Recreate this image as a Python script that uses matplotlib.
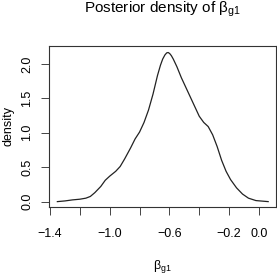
# Posterior density plot, R base-graphics look
import matplotlib
matplotlib.use("Agg")
import matplotlib.pyplot as plt

# density curve
beta = [-1.351, -1.30, -1.25, -1.20, -1.16, -1.13, -1.10, -1.06, -1.03,
        -1.00, -0.96, -0.93, -0.90, -0.86, -0.83, -0.80, -0.77, -0.74,
        -0.71, -0.68, -0.66, -0.645, -0.63, -0.618, -0.608, -0.598, -0.587,
        -0.574, -0.55, -0.52, -0.49, -0.46, -0.43, -0.40, -0.37, -0.34,
        -0.31, -0.28, -0.25, -0.22, -0.19, -0.15, -0.11, -0.07, -0.02, 0.062]
dens = [0.0, 0.01, 0.025, 0.035, 0.05, 0.075, 0.13, 0.22, 0.31,
        0.37, 0.44, 0.51, 0.62, 0.78, 0.91, 1.01, 1.15, 1.33,
        1.56, 1.83, 1.98, 2.07, 2.13, 2.16, 2.165, 2.15, 2.12,
        2.07, 1.96, 1.80, 1.66, 1.52, 1.38, 1.24, 1.15, 1.09,
        0.97, 0.80, 0.60, 0.44, 0.32, 0.20, 0.11, 0.05, 0.015, 0.0]

xticks = [-1.4, -1.2, -1.0, -0.8, -0.6, -0.4, -0.2, 0.0]
xlabels = ["\u22121.4", "", "\u22121.0", "", "\u22120.6", "", "\u22120.2", "0.0"]
yticks = [0.0, 0.5, 1.0, 1.5, 2.0]
ylabels = ["0.0", "0.5", "1.0", "1.5", "2.0"]

plt.rcParams["font.family"] = ["Liberation Sans", "DejaVu Sans"]
plt.rcParams["mathtext.fontset"] = "custom"
plt.rcParams["mathtext.rm"] = "Liberation Sans"
plt.rcParams["mathtext.it"] = "Liberation Sans"

fig = plt.figure(figsize=(2.77, 2.77), dpi=100)
ax = fig.add_axes([0.178, 0.254, 0.817, 0.580])

ax.plot(beta, dens, color="#222222", lw=0.9)
ax.set_xlim(-1.405, 0.112)
ax.set_ylim(-0.073, 2.26)

ax.set_xticks(xticks)
ax.set_xticklabels(xlabels, fontsize=9)
ax.set_yticks(yticks)
ax.set_yticklabels(ylabels, fontsize=9, rotation=90, va="center")
ax.tick_params(direction="out", length=5.5, width=0.7, color="#444444")
ax.tick_params(axis="x", pad=10)
ax.tick_params(axis="y", pad=6)
for s in ax.spines.values():
    s.set_linewidth(0.8)
    s.set_color("#333333")

ax.set_title(r"Posterior density of $\beta_{g1}$", fontsize=11, pad=24)
ax.set_xlabel(r"$\beta_{g1}$", fontsize=9, labelpad=13)
ax.set_ylabel("density", fontsize=9, labelpad=5)

fig.savefig("out.png", dpi=100)
